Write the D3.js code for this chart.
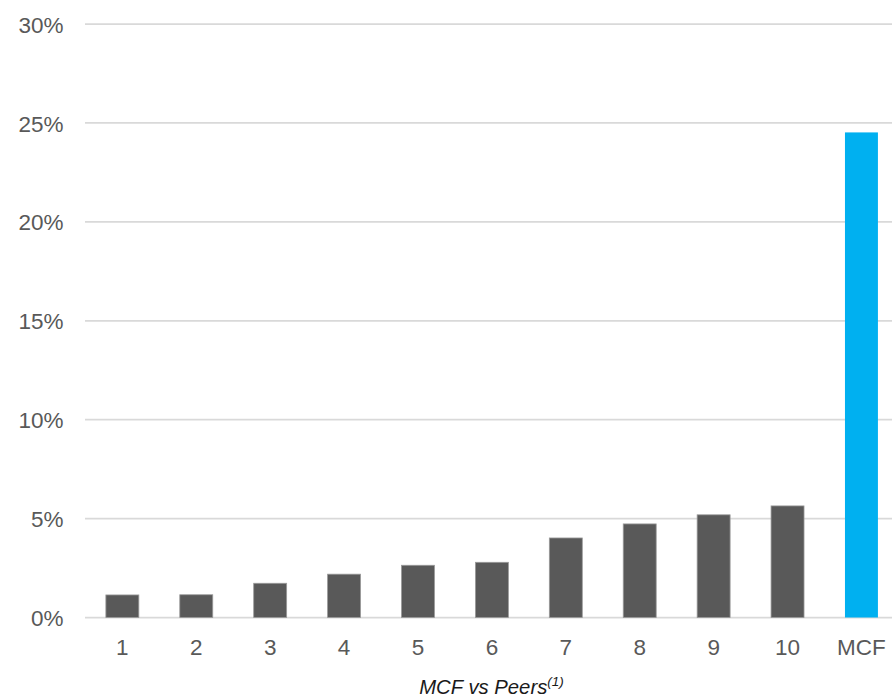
<!DOCTYPE html>
<html>
<head>
<meta charset="utf-8">
<script src="https://cdn.jsdelivr.net/npm/d3@7"></script>
<style>
  html, body { margin: 0; padding: 0; background: #fff; }
  svg { display: block; font-family: "Liberation Sans", Arial, sans-serif; }
</style>
</head>
<body>
<svg id="chart" width="892" height="697"></svg>
<script>
// Categories and values (percent)
const categories = ["1", "2", "3", "4", "5", "6", "7", "8", "9", "10", "MCF"];
const values = [1.14, 1.15, 1.73, 2.19, 2.64, 2.79, 4.02, 4.73, 5.19, 5.64, 24.52];
const yTicks = [0, 5, 10, 15, 20, 25, 30];
const axisTitle = "MCF vs Peers";
const axisNote = "(1)";

const svg = d3.select("#chart");

const x = d3.scaleBand()
  .domain(categories)
  .range([85.4, 898.4])
  .paddingInner(0.554)
  .paddingOuter(0.277);

const y = d3.scaleLinear()
  .domain([0, 30])
  .range([617.5, 24]);

// Horizontal gridlines
const yAxis = d3.axisLeft(y)
  .tickValues(yTicks)
  .tickSize(0)
  .tickPadding(0)
  .tickFormat(d => d + "%");

const grid = svg.append("g");
grid.selectAll("line")
  .data(yTicks)
  .join("line")
  .attr("x1", 85)
  .attr("x2", 892)
  .attr("y1", d => y(d))
  .attr("y2", d => y(d))
  .attr("stroke", "#d9d9d9")
  .attr("stroke-width", 1.75);

// Y tick labels
const gy = svg.append("g").attr("transform", "translate(63.5,0)").call(yAxis);
gy.select(".domain").remove();
gy.selectAll("text")
  .attr("font-size", 22.5)
  .attr("fill", "#595959")
  .attr("dy", "0.36em")
  .attr("font-family", "Liberation Sans, Arial, sans-serif");

// Bars
svg.append("g")
  .selectAll("rect")
  .data(categories.map((c, i) => ({ c, v: values[i] })))
  .join("rect")
  .attr("x", d => x(d.c))
  .attr("width", x.bandwidth())
  .attr("y", d => y(d.v))
  .attr("height", d => y(0) - y(d.v))
  .attr("fill", d => d.c === "MCF" ? "#00b0f0" : "#595959")
  .attr("stroke", d => d.c === "MCF" ? "none" : "#9a9a9a")
  .attr("stroke-width", 0.8);

// X tick labels
const xAxis = d3.axisBottom(x).tickSize(0).tickPadding(0);
const gx = svg.append("g").attr("transform", "translate(0,654.5)").call(xAxis);
gx.select(".domain").remove();
gx.selectAll("text")
  .attr("dy", 0)
  .attr("font-size", 22.5)
  .attr("fill", "#595959")
  .attr("font-family", "Liberation Sans, Arial, sans-serif");

// Axis title with superscript note
const title = svg.append("text")
  .attr("x", 491.5)
  .attr("y", 694)
  .attr("text-anchor", "middle")
  .attr("font-size", 20.3)
  .attr("font-style", "italic")
  .attr("fill", "#1a1a1a");
title.append("tspan").text(axisTitle);
title.append("tspan")
  .attr("font-size", 13.5)
  .attr("dy", -8)
  .text(axisNote);
</script>
</body>
</html>
